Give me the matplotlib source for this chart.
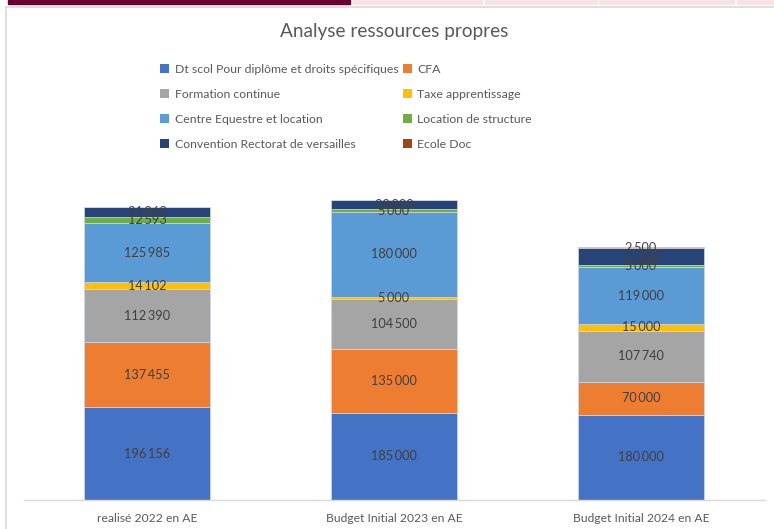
import matplotlib
matplotlib.use("Agg")
import matplotlib.pyplot as plt
from matplotlib.patches import Rectangle, Patch
import numpy as np

plt.rcParams['font.family'] = ['Lato', 'DejaVu Sans']

categories = ["realisé 2022 en AE", "Budget Initial 2023 en AE", "Budget Initial 2024 en AE"]
series_names = ["Dt scol Pour diplôme et droits spécifiques", "CFA", "Formation continue",
                "Taxe apprentissage", "Centre Equestre et location", "Location de structure",
                "Convention Rectorat de versailles", "Ecole Doc"]
dt_scol = [196156, 185000, 180000]
cfa = [137455, 135000, 70000]
formation = [112390, 104500, 107740]
taxe = [14102, 5000, 15000]
centre = [125985, 180000, 119000]
location = [12593, 5000, 5000]
convention = [21863, 20000, 35300]
ecole = [0, 0, 2500]
series = [dt_scol, cfa, formation, taxe, centre, location, convention, ecole]
colors = ["#4472C4", "#ED7D31", "#A5A5A5", "#FFC000", "#5B9BD5", "#70AD47", "#264478", "#9E480E"]

W, H = 774, 529
fig = plt.figure(figsize=(W / 100, H / 100), dpi=100)

# header strip and chart frame
fig.patches.append(Rectangle((8 / W, 1 - 4 / H), (350 - 8) / W, 4 / H, transform=fig.transFigure,
                             color="#660033", zorder=-5))
for x0, x1 in [(353, 482), (485, 597), (599, 734), (737, 774)]:
    fig.patches.append(Rectangle((x0 / W, 1 - 4 / H), (x1 - x0) / W, 4 / H, transform=fig.transFigure,
                                 color="#F6E4E4", zorder=-5))
fig.patches.append(Rectangle((6 / W, -0.01), 1.0, 1 - 7 / H + 0.01, transform=fig.transFigure,
                             facecolor="white", edgecolor="#D9D9D9", linewidth=1.2, zorder=-5))

ax = fig.add_axes([23.5 / W, 1 - 500 / H, 741 / W, 331 / H])
ax.set_zorder(2)
ax.set_facecolor("none")
x = np.arange(len(categories))
bottom = np.zeros(len(categories))
handles = []
for name, vals, c in zip(series_names, series, colors):
    vals = np.array(vals, dtype=float)
    ax.bar(x, vals, 0.51, bottom=bottom, color=c, edgecolor="#D0D8E8", linewidth=0.5, zorder=2)
    for xi, v, b in zip(x, vals, bottom):
        if v > 0:
            ax.text(xi, b + v / 2, f"{int(v):,}".replace(",", "\u2009"), ha="center", va="center",
                    fontsize=9.2, color="#404040", zorder=3)
    bottom += vals
    handles.append(Patch(facecolor=c, label=name))

ax.set_xlim(-0.5, 2.5)
ax.set_ylim(0, 700000)
ax.set_yticks([])
ax.set_xticks(x)
ax.set_xticklabels(categories, fontsize=8.7, color="#595959")
ax.tick_params(axis="x", length=0, pad=9)
for s in ["top", "right", "left"]:
    ax.spines[s].set_visible(False)
ax.spines["bottom"].set_color("#D9D9D9")
ax.spines["bottom"].set_linewidth(1.0)

fig.text(394 / W, 1 - 32 / H, "Analyse ressources propres", ha="center", va="center",
         fontsize=13.7, color="#595959")

order = [0, 2, 4, 6, 1, 3, 5, 7]
leg = fig.legend([handles[i] for i in order], [series_names[i] for i in order], ncol=2,
                 loc="upper left", bbox_to_anchor=(149 / W, 1 - 53 / H), frameon=False,
                 fontsize=8.8, handlelength=0.75, handleheight=0.75, handletextpad=0.45,
                 columnspacing=0.35, labelspacing=1.15, labelcolor="#595959")

fig.savefig("out.png", dpi=100)
